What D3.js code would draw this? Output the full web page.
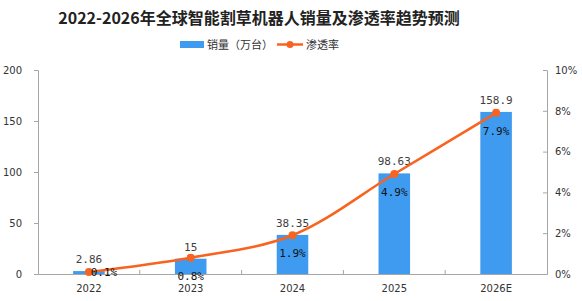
<!DOCTYPE html>
<html>
<head>
<meta charset="utf-8">
<script src="https://d3js.org/d3.v7.min.js"></script>
<style>
body { margin: 0; background: #fff; }
text { font-family: "Noto Sans CJK SC", "DejaVu Sans", sans-serif; }
</style>
</head>
<body>
<script>
var years = ['2022', '2023', '2024', '2025', '2026E'];
var sales = [2.86, 15, 38.35, 98.63, 158.9];
var rates = [0.001, 0.008, 0.019, 0.049, 0.079];
var salesTicks = [0, 50, 100, 150, 200];
var rateTicks = [0, 0.02, 0.04, 0.06, 0.08, 0.1];

var width = 582, height = 301;
var plotLeft = 38, plotRight = 547, plotTop = 70, plotBottom = 274;
var barColor = '#3f9bef', lineColor = '#f8631f', axisColor = '#a6a6a6';

var svg = d3.select('body').append('svg')
    .attr('width', width)
    .attr('height', height);

svg.append('text')
    .attr('x', 259).attr('y', 24)
    .attr('text-anchor', 'middle')
    .style('font-size', '16px')
    .style('font-weight', 'bold')
    .attr('fill', '#222')
    .text('2022-2026年全球智能割草机器人销量及渗透率趋势预测');

// legend
var lg = svg.append('g').style('font-size', '11px');
lg.append('rect').attr('x', 180).attr('y', 41).attr('width', 24).attr('height', 7).attr('fill', barColor);
lg.append('text').attr('x', 207).attr('y', 49).attr('fill', '#333').text('销量（万台）');
lg.append('line').attr('x1', 277).attr('x2', 303).attr('y1', 44.5).attr('y2', 44.5)
    .attr('stroke', lineColor).attr('stroke-width', 2.5);
lg.append('circle').attr('cx', 290).attr('cy', 44.5).attr('r', 3.5).attr('fill', lineColor);
lg.append('text').attr('x', 306).attr('y', 49).attr('fill', '#333').text('渗透率');

var x = d3.scaleBand().domain(years).range([plotLeft, plotRight]);
var y = d3.scaleLinear().domain([0, 200]).range([plotBottom, plotTop]);
var y2 = d3.scaleLinear().domain([0, 0.1]).range([plotBottom, plotTop]);

var barW = x.bandwidth() * 0.31;

// axes
var yAxis = svg.append('g')
    .attr('transform', 'translate(' + plotLeft + ',0)')
    .call(d3.axisLeft(y).tickValues(salesTicks).tickSize(4).tickPadding(12));
var y2Axis = svg.append('g')
    .attr('transform', 'translate(' + plotRight + ',0)')
    .call(d3.axisRight(y2).tickValues(rateTicks).tickSize(-4).tickPadding(8)
        .tickFormat(d3.format('.0%')));
var xAxis = svg.append('g')
    .attr('transform', 'translate(0,' + plotBottom + ')')
    .call(d3.axisBottom(x).tickSize(0).tickPadding(11));

[yAxis, y2Axis, xAxis].forEach(function(a) {
    a.select('.domain').attr('stroke', axisColor);
    a.selectAll('.tick line').attr('stroke', axisColor);
    a.selectAll('text').attr('fill', '#333')
        .style('font-family', '"DejaVu Sans", sans-serif').style('font-size', '10px');
});

// category separators on x axis
svg.append('g').selectAll('line')
    .data(years.slice(1))
    .enter().append('line')
    .attr('x1', function(d) { return x(d); })
    .attr('x2', function(d) { return x(d); })
    .attr('y1', plotBottom).attr('y2', plotBottom - 4)
    .attr('stroke', axisColor);

// bars
svg.append('g').selectAll('rect')
    .data(sales)
    .enter().append('rect')
    .attr('x', function(d, i) { return x(years[i]) + x.bandwidth() / 2 - barW / 2; })
    .attr('y', function(d) { return y(d); })
    .attr('width', barW)
    .attr('height', function(d) { return plotBottom - y(d); })
    .attr('fill', barColor);

svg.append('g').selectAll('text')
    .data(sales)
    .enter().append('text')
    .attr('x', function(d, i) { return x(years[i]) + x.bandwidth() / 2; })
    .attr('y', function(d) { return y(d) - 8; })
    .attr('text-anchor', 'middle')
    .style('font-family', '"DejaVu Sans Mono", monospace')
    .style('font-size', '11px')
    .attr('fill', '#404040')
    .text(function(d) { return d; });

// line
var cx = function(d, i) { return x(years[i]) + x.bandwidth() / 2; };
var line = d3.line()
    .x(cx)
    .y(function(d) { return y2(d); })
    .curve(d3.curveCatmullRom.alpha(0.5));

svg.append('path')
    .datum(rates)
    .attr('d', line)
    .attr('fill', 'none')
    .attr('stroke', lineColor)
    .attr('stroke-width', 2.5);

svg.append('g').selectAll('circle')
    .data(rates)
    .enter().append('circle')
    .attr('cx', cx)
    .attr('cy', function(d) { return y2(d); })
    .attr('r', 4)
    .attr('fill', lineColor);

svg.append('g').selectAll('text')
    .data(rates)
    .enter().append('text')
    .attr('x', function(d, i) {
        var ly = y2(d) + 22;
        return cx(d, i) + (ly > plotBottom + 10 ? 15 : 0);
    })
    .attr('y', function(d) {
        var ly = y2(d) + 22;
        return ly > plotBottom + 10 ? y2(d) + 4 : ly;
    })
    .attr('text-anchor', 'middle')
    .style('font-family', '"DejaVu Sans Mono", monospace')
    .style('font-size', '11px')
    .attr('fill', '#111')
    .text(function(d) { return d3.format('.1%')(d); });
</script>
</body>
</html>
